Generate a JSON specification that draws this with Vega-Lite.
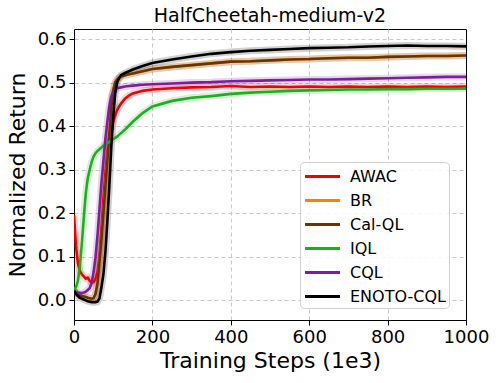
{
  "$schema": "https://vega.github.io/schema/vega-lite/v6.json",
  "width": 392,
  "height": 291,
  "autosize": {"type": "none"},
  "padding": {"left": 74, "top": 29, "right": 33, "bottom": 63},
  "background": "white",
  "title": {"text": "HalfCheetah-medium-v2", "fontSize": 19, "fontWeight": "normal", "font": "DejaVu Sans", "color": "black", "anchor": "middle", "offset": 3},
  "config": {
    "font": "DejaVu Sans",
    "view": {"stroke": "black", "strokeWidth": 1},
    "axis": {
      "labelFontSize": 18, "titleFontSize": 22, "titleFontWeight": "normal",
      "labelColor": "black", "titleColor": "black", "domainColor": "black", "tickColor": "black",
      "tickSize": 5, "labelPadding": 3, "gridColor": "#c8c8c8", "gridDash": [4, 3], "gridWidth": 1
    }
  },
  "data": {"values": [
    {"algo":"AWAC","step":0,"ret":0.195},{"algo":"AWAC","step":5,"ret":0.125},{"algo":"AWAC","step":10,"ret":0.085},{"algo":"AWAC","step":15,"ret":0.068},{"algo":"AWAC","step":20,"ret":0.06},{"algo":"AWAC","step":25,"ret":0.055},{"algo":"AWAC","step":30,"ret":0.05},{"algo":"AWAC","step":35,"ret":0.052},{"algo":"AWAC","step":40,"ret":0.045},{"algo":"AWAC","step":45,"ret":0.04},{"algo":"AWAC","step":50,"ret":0.042},{"algo":"AWAC","step":55,"ret":0.05},{"algo":"AWAC","step":60,"ret":0.065},{"algo":"AWAC","step":65,"ret":0.1},{"algo":"AWAC","step":70,"ret":0.16},{"algo":"AWAC","step":75,"ret":0.23},{"algo":"AWAC","step":80,"ret":0.29},{"algo":"AWAC","step":85,"ret":0.34},{"algo":"AWAC","step":90,"ret":0.375},{"algo":"AWAC","step":95,"ret":0.395},{"algo":"AWAC","step":100,"ret":0.41},{"algo":"AWAC","step":105,"ret":0.425},{"algo":"AWAC","step":110,"ret":0.437},{"algo":"AWAC","step":115,"ret":0.445},{"algo":"AWAC","step":120,"ret":0.452},{"algo":"AWAC","step":130,"ret":0.463},{"algo":"AWAC","step":140,"ret":0.47},{"algo":"AWAC","step":150,"ret":0.475},{"algo":"AWAC","step":175,"ret":0.481},{"algo":"AWAC","step":200,"ret":0.484},{"algo":"AWAC","step":250,"ret":0.487},{"algo":"AWAC","step":300,"ret":0.489},{"algo":"AWAC","step":350,"ret":0.49},{"algo":"AWAC","step":400,"ret":0.492},{"algo":"AWAC","step":450,"ret":0.49},{"algo":"AWAC","step":500,"ret":0.491},{"algo":"AWAC","step":550,"ret":0.49},{"algo":"AWAC","step":600,"ret":0.491},{"algo":"AWAC","step":650,"ret":0.49},{"algo":"AWAC","step":700,"ret":0.491},{"algo":"AWAC","step":750,"ret":0.49},{"algo":"AWAC","step":800,"ret":0.491},{"algo":"AWAC","step":850,"ret":0.49},{"algo":"AWAC","step":900,"ret":0.491},{"algo":"AWAC","step":950,"ret":0.49},{"algo":"AWAC","step":1000,"ret":0.491},
    {"algo":"BR","step":0,"ret":0.022},{"algo":"BR","step":5,"ret":0.018},{"algo":"BR","step":10,"ret":0.015},{"algo":"BR","step":15,"ret":0.012},{"algo":"BR","step":20,"ret":0.01},{"algo":"BR","step":25,"ret":0.009},{"algo":"BR","step":30,"ret":0.008},{"algo":"BR","step":35,"ret":0.006},{"algo":"BR","step":40,"ret":0.005},{"algo":"BR","step":45,"ret":0.004},{"algo":"BR","step":50,"ret":0.005},{"algo":"BR","step":55,"ret":0.015},{"algo":"BR","step":60,"ret":0.04},{"algo":"BR","step":65,"ret":0.087},{"algo":"BR","step":70,"ret":0.14},{"algo":"BR","step":75,"ret":0.2},{"algo":"BR","step":80,"ret":0.26},{"algo":"BR","step":85,"ret":0.32},{"algo":"BR","step":90,"ret":0.38},{"algo":"BR","step":95,"ret":0.44},{"algo":"BR","step":100,"ret":0.482},{"algo":"BR","step":105,"ret":0.5},{"algo":"BR","step":110,"ret":0.507},{"algo":"BR","step":115,"ret":0.511},{"algo":"BR","step":120,"ret":0.514},{"algo":"BR","step":130,"ret":0.517},{"algo":"BR","step":140,"ret":0.519},{"algo":"BR","step":150,"ret":0.521},{"algo":"BR","step":175,"ret":0.526},{"algo":"BR","step":200,"ret":0.531},{"algo":"BR","step":250,"ret":0.536},{"algo":"BR","step":300,"ret":0.54},{"algo":"BR","step":350,"ret":0.544},{"algo":"BR","step":400,"ret":0.548},{"algo":"BR","step":450,"ret":0.549},{"algo":"BR","step":500,"ret":0.551},{"algo":"BR","step":550,"ret":0.553},{"algo":"BR","step":600,"ret":0.554},{"algo":"BR","step":650,"ret":0.556},{"algo":"BR","step":700,"ret":0.557},{"algo":"BR","step":750,"ret":0.557},{"algo":"BR","step":800,"ret":0.559},{"algo":"BR","step":850,"ret":0.56},{"algo":"BR","step":900,"ret":0.561},{"algo":"BR","step":950,"ret":0.561},{"algo":"BR","step":1000,"ret":0.562},
    {"algo":"Cal-QL","step":0,"ret":0.022},{"algo":"Cal-QL","step":5,"ret":0.018},{"algo":"Cal-QL","step":10,"ret":0.015},{"algo":"Cal-QL","step":15,"ret":0.012},{"algo":"Cal-QL","step":20,"ret":0.01},{"algo":"Cal-QL","step":25,"ret":0.009},{"algo":"Cal-QL","step":30,"ret":0.008},{"algo":"Cal-QL","step":35,"ret":0.006},{"algo":"Cal-QL","step":40,"ret":0.005},{"algo":"Cal-QL","step":45,"ret":0.004},{"algo":"Cal-QL","step":50,"ret":0.005},{"algo":"Cal-QL","step":55,"ret":0.015},{"algo":"Cal-QL","step":60,"ret":0.04},{"algo":"Cal-QL","step":65,"ret":0.087},{"algo":"Cal-QL","step":70,"ret":0.14},{"algo":"Cal-QL","step":75,"ret":0.2},{"algo":"Cal-QL","step":80,"ret":0.26},{"algo":"Cal-QL","step":85,"ret":0.32},{"algo":"Cal-QL","step":90,"ret":0.38},{"algo":"Cal-QL","step":95,"ret":0.44},{"algo":"Cal-QL","step":100,"ret":0.482},{"algo":"Cal-QL","step":105,"ret":0.5},{"algo":"Cal-QL","step":110,"ret":0.507},{"algo":"Cal-QL","step":115,"ret":0.511},{"algo":"Cal-QL","step":120,"ret":0.514},{"algo":"Cal-QL","step":130,"ret":0.517},{"algo":"Cal-QL","step":140,"ret":0.519},{"algo":"Cal-QL","step":150,"ret":0.521},{"algo":"Cal-QL","step":175,"ret":0.526},{"algo":"Cal-QL","step":200,"ret":0.531},{"algo":"Cal-QL","step":250,"ret":0.536},{"algo":"Cal-QL","step":300,"ret":0.54},{"algo":"Cal-QL","step":350,"ret":0.544},{"algo":"Cal-QL","step":400,"ret":0.548},{"algo":"Cal-QL","step":450,"ret":0.549},{"algo":"Cal-QL","step":500,"ret":0.551},{"algo":"Cal-QL","step":550,"ret":0.553},{"algo":"Cal-QL","step":600,"ret":0.554},{"algo":"Cal-QL","step":650,"ret":0.556},{"algo":"Cal-QL","step":700,"ret":0.557},{"algo":"Cal-QL","step":750,"ret":0.557},{"algo":"Cal-QL","step":800,"ret":0.559},{"algo":"Cal-QL","step":850,"ret":0.56},{"algo":"Cal-QL","step":900,"ret":0.561},{"algo":"Cal-QL","step":950,"ret":0.561},{"algo":"Cal-QL","step":1000,"ret":0.562},
    {"algo":"IQL","step":0,"ret":0.025},{"algo":"IQL","step":5,"ret":0.03},{"algo":"IQL","step":10,"ret":0.045},{"algo":"IQL","step":15,"ret":0.08},{"algo":"IQL","step":20,"ret":0.13},{"algo":"IQL","step":25,"ret":0.19},{"algo":"IQL","step":30,"ret":0.245},{"algo":"IQL","step":35,"ret":0.28},{"algo":"IQL","step":40,"ret":0.3},{"algo":"IQL","step":45,"ret":0.318},{"algo":"IQL","step":50,"ret":0.33},{"algo":"IQL","step":55,"ret":0.338},{"algo":"IQL","step":60,"ret":0.343},{"algo":"IQL","step":65,"ret":0.347},{"algo":"IQL","step":70,"ret":0.351},{"algo":"IQL","step":75,"ret":0.355},{"algo":"IQL","step":80,"ret":0.358},{"algo":"IQL","step":85,"ret":0.361},{"algo":"IQL","step":90,"ret":0.364},{"algo":"IQL","step":95,"ret":0.367},{"algo":"IQL","step":100,"ret":0.37},{"algo":"IQL","step":105,"ret":0.373},{"algo":"IQL","step":110,"ret":0.376},{"algo":"IQL","step":115,"ret":0.38},{"algo":"IQL","step":120,"ret":0.384},{"algo":"IQL","step":130,"ret":0.392},{"algo":"IQL","step":140,"ret":0.401},{"algo":"IQL","step":150,"ret":0.41},{"algo":"IQL","step":175,"ret":0.43},{"algo":"IQL","step":200,"ret":0.445},{"algo":"IQL","step":250,"ret":0.458},{"algo":"IQL","step":300,"ret":0.465},{"algo":"IQL","step":350,"ret":0.469},{"algo":"IQL","step":400,"ret":0.474},{"algo":"IQL","step":450,"ret":0.477},{"algo":"IQL","step":500,"ret":0.479},{"algo":"IQL","step":550,"ret":0.481},{"algo":"IQL","step":600,"ret":0.482},{"algo":"IQL","step":650,"ret":0.483},{"algo":"IQL","step":700,"ret":0.484},{"algo":"IQL","step":750,"ret":0.484},{"algo":"IQL","step":800,"ret":0.485},{"algo":"IQL","step":850,"ret":0.485},{"algo":"IQL","step":900,"ret":0.486},{"algo":"IQL","step":950,"ret":0.486},{"algo":"IQL","step":1000,"ret":0.486},
    {"algo":"CQL","step":0,"ret":0.02},{"algo":"CQL","step":5,"ret":0.019},{"algo":"CQL","step":10,"ret":0.018},{"algo":"CQL","step":15,"ret":0.017},{"algo":"CQL","step":20,"ret":0.017},{"algo":"CQL","step":25,"ret":0.018},{"algo":"CQL","step":30,"ret":0.02},{"algo":"CQL","step":35,"ret":0.024},{"algo":"CQL","step":40,"ret":0.028},{"algo":"CQL","step":45,"ret":0.04},{"algo":"CQL","step":50,"ret":0.065},{"algo":"CQL","step":55,"ret":0.1},{"algo":"CQL","step":60,"ret":0.15},{"algo":"CQL","step":65,"ret":0.21},{"algo":"CQL","step":70,"ret":0.27},{"algo":"CQL","step":75,"ret":0.32},{"algo":"CQL","step":80,"ret":0.37},{"algo":"CQL","step":85,"ret":0.41},{"algo":"CQL","step":90,"ret":0.445},{"algo":"CQL","step":95,"ret":0.468},{"algo":"CQL","step":100,"ret":0.478},{"algo":"CQL","step":105,"ret":0.484},{"algo":"CQL","step":110,"ret":0.487},{"algo":"CQL","step":115,"ret":0.488},{"algo":"CQL","step":120,"ret":0.489},{"algo":"CQL","step":130,"ret":0.491},{"algo":"CQL","step":140,"ret":0.492},{"algo":"CQL","step":150,"ret":0.493},{"algo":"CQL","step":175,"ret":0.495},{"algo":"CQL","step":200,"ret":0.496},{"algo":"CQL","step":250,"ret":0.498},{"algo":"CQL","step":300,"ret":0.5},{"algo":"CQL","step":350,"ret":0.501},{"algo":"CQL","step":400,"ret":0.503},{"algo":"CQL","step":450,"ret":0.504},{"algo":"CQL","step":500,"ret":0.505},{"algo":"CQL","step":550,"ret":0.506},{"algo":"CQL","step":600,"ret":0.507},{"algo":"CQL","step":650,"ret":0.507},{"algo":"CQL","step":700,"ret":0.508},{"algo":"CQL","step":750,"ret":0.509},{"algo":"CQL","step":800,"ret":0.51},{"algo":"CQL","step":850,"ret":0.511},{"algo":"CQL","step":900,"ret":0.512},{"algo":"CQL","step":950,"ret":0.513},{"algo":"CQL","step":1000,"ret":0.513},
    {"algo":"ENOTO-CQL","step":0,"ret":0.022},{"algo":"ENOTO-CQL","step":5,"ret":0.015},{"algo":"ENOTO-CQL","step":10,"ret":0.01},{"algo":"ENOTO-CQL","step":15,"ret":0.006},{"algo":"ENOTO-CQL","step":20,"ret":0.004},{"algo":"ENOTO-CQL","step":25,"ret":0.002},{"algo":"ENOTO-CQL","step":30,"ret":0.0},{"algo":"ENOTO-CQL","step":35,"ret":-0.002},{"algo":"ENOTO-CQL","step":40,"ret":-0.003},{"algo":"ENOTO-CQL","step":45,"ret":-0.004},{"algo":"ENOTO-CQL","step":50,"ret":-0.004},{"algo":"ENOTO-CQL","step":55,"ret":-0.004},{"algo":"ENOTO-CQL","step":60,"ret":-0.003},{"algo":"ENOTO-CQL","step":65,"ret":0.005},{"algo":"ENOTO-CQL","step":70,"ret":0.03},{"algo":"ENOTO-CQL","step":75,"ret":0.06},{"algo":"ENOTO-CQL","step":80,"ret":0.11},{"algo":"ENOTO-CQL","step":85,"ret":0.18},{"algo":"ENOTO-CQL","step":90,"ret":0.26},{"algo":"ENOTO-CQL","step":95,"ret":0.35},{"algo":"ENOTO-CQL","step":100,"ret":0.42},{"algo":"ENOTO-CQL","step":105,"ret":0.475},{"algo":"ENOTO-CQL","step":110,"ret":0.5},{"algo":"ENOTO-CQL","step":115,"ret":0.51},{"algo":"ENOTO-CQL","step":120,"ret":0.517},{"algo":"ENOTO-CQL","step":130,"ret":0.522},{"algo":"ENOTO-CQL","step":140,"ret":0.526},{"algo":"ENOTO-CQL","step":150,"ret":0.53},{"algo":"ENOTO-CQL","step":175,"ret":0.538},{"algo":"ENOTO-CQL","step":200,"ret":0.545},{"algo":"ENOTO-CQL","step":250,"ret":0.553},{"algo":"ENOTO-CQL","step":300,"ret":0.56},{"algo":"ENOTO-CQL","step":350,"ret":0.566},{"algo":"ENOTO-CQL","step":400,"ret":0.57},{"algo":"ENOTO-CQL","step":450,"ret":0.573},{"algo":"ENOTO-CQL","step":500,"ret":0.575},{"algo":"ENOTO-CQL","step":550,"ret":0.577},{"algo":"ENOTO-CQL","step":600,"ret":0.579},{"algo":"ENOTO-CQL","step":650,"ret":0.58},{"algo":"ENOTO-CQL","step":700,"ret":0.581},{"algo":"ENOTO-CQL","step":750,"ret":0.583},{"algo":"ENOTO-CQL","step":800,"ret":0.584},{"algo":"ENOTO-CQL","step":850,"ret":0.585},{"algo":"ENOTO-CQL","step":900,"ret":0.584},{"algo":"ENOTO-CQL","step":950,"ret":0.584},{"algo":"ENOTO-CQL","step":1000,"ret":0.583}
  ]},
  "encoding": {
    "x": {"field": "step", "type": "quantitative", "scale": {"domain": [0, 1000], "nice": false},
      "axis": {"title": "Training Steps (1e3)", "values": [0, 200, 400, 600, 800, 1000], "format": "d", "titlePadding": 4, "labelFlush": false,
        "gridOpacity": {"condition": {"test": "datum.value >= 1000", "value": 0}, "value": 1}}},
    "y": {"field": "ret", "type": "quantitative", "scale": {"domain": [-0.045, 0.623], "nice": false, "zero": false},
      "axis": {"title": "Normalized Return", "values": [0, 0.1, 0.2, 0.3, 0.4, 0.5, 0.6], "format": ".1f", "titlePadding": 8}},
    "color": {"field": "algo", "type": "nominal",
      "scale": {"domain": ["AWAC", "BR", "Cal-QL", "IQL", "CQL", "ENOTO-CQL"], "range": ["#ee0000", "#ff7f0e", "#653700", "#1fae1f", "#7e1e9c", "#000000"]},
      "legend": {"title": null, "orient": "none", "legendX": 226, "legendY": 133,
        "symbolType": "M-1.75,0H1.75", "symbolSize": 400, "symbolStrokeWidth": 3, "symbolOffset": 8, "symbolOpacity": 1,
        "labelFontSize": 16, "labelColor": "black", "labelOffset": 16, "rowPadding": 4,
        "padding": 3, "strokeColor": "#d0d0d0", "fillColor": "rgba(255,255,255,0.85)", "cornerRadius": 4}}
  },
  "layer": [
    {"mark": {"type": "line", "strokeWidth": 7, "opacity": 0.18, "clip": true}},
    {"mark": {"type": "line", "strokeWidth": 2.6, "clip": true}}
  ]
}
